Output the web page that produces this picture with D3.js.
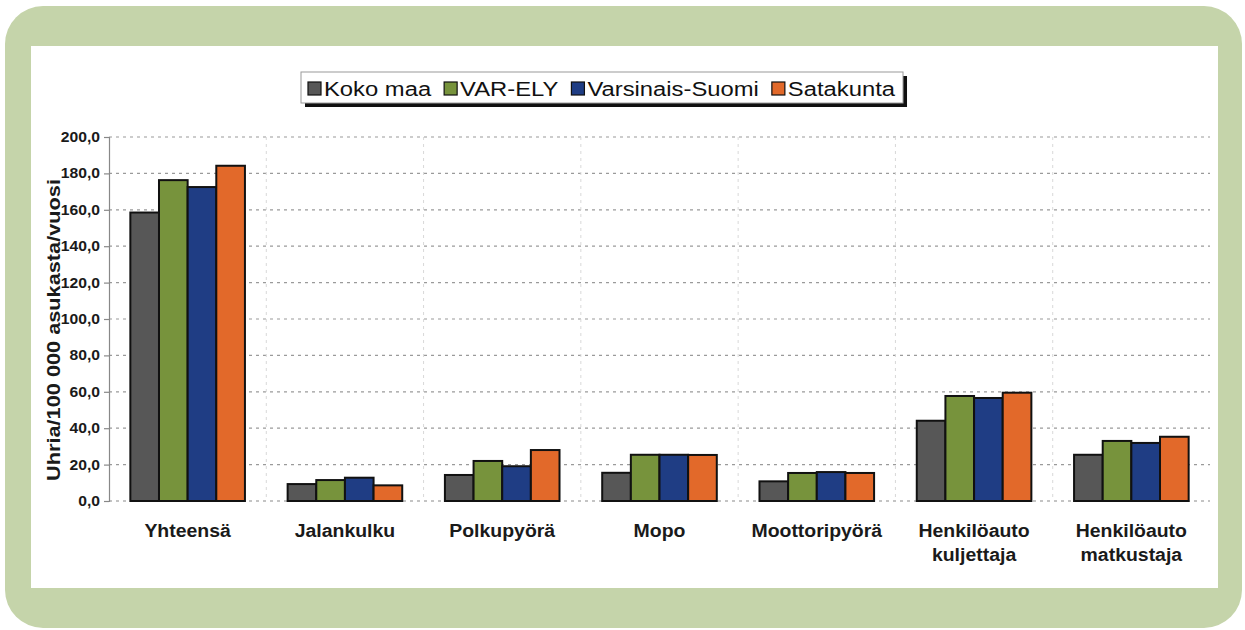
<!DOCTYPE html>
<html>
<head>
<meta charset="utf-8">
<script src="https://cdn.jsdelivr.net/npm/d3@7"></script>
<style>
  html, body { margin: 0; padding: 0; background: #ffffff; }
  svg { display: block; font-family: "Liberation Sans", Arial, sans-serif; }
</style>
</head>
<body>
<svg id="chart" width="1245" height="630"></svg>
<script>
// Casualties per 100 000 inhabitants per year, by road user group
const categories = [
  ["Yhteensä"],
  ["Jalankulku"],
  ["Polkupyörä"],
  ["Mopo"],
  ["Moottoripyörä"],
  ["Henkilöauto", "kuljettaja"],
  ["Henkilöauto", "matkustaja"]
];
const seriesNames = ["Koko maa", "VAR-ELY", "Varsinais-Suomi", "Satakunta"];
const seriesColors = ["#575757", "#77933c", "#1f3d84", "#e2692a"];
const kokoMaa        = [158.5, 9.3, 14.3, 15.5, 10.8, 44.1, 25.4];
const varEly         = [176.3, 11.5, 22.0, 25.4, 15.4, 57.7, 33.0];
const varsinaisSuomi = [172.5, 12.8, 19.1, 25.4, 15.9, 56.6, 31.9];
const satakunta      = [184.2, 8.6, 28.0, 25.3, 15.4, 59.5, 35.3];
const yTicks = [0, 20, 40, 60, 80, 100, 120, 140, 160, 180, 200];
const yTitle = "Uhria/100 000 asukasta/vuosi";

const seriesValues = [kokoMaa, varEly, varsinaisSuomi, satakunta];
const fmt = v => v.toFixed(1).replace(".", ",");

const svg = d3.select("#chart");

// Frame: rounded green panel with a white card inside
svg.append("rect").attr("x", 5).attr("y", 6).attr("width", 1237).attr("height", 622)
  .attr("rx", 38).attr("ry", 38).attr("fill", "#c5d4aa");
svg.append("rect").attr("x", 31).attr("y", 46).attr("width", 1187).attr("height", 542)
  .attr("fill", "#ffffff");

// Scales
const plot = { left: 109, right: 1210, top: 137, bottom: 501 };
const x0 = d3.scaleBand().domain(d3.range(categories.length)).range([plot.left, plot.right]);
const x1 = d3.scaleBand().domain(d3.range(seriesNames.length)).range([0, x0.bandwidth()])
  .paddingInner(0).paddingOuter(0.745);
const y = d3.scaleLinear().domain([0, 200]).range([plot.bottom, plot.top]);

// Horizontal gridlines
svg.append("g").selectAll("line").data(yTicks).join("line")
  .attr("x1", plot.left).attr("x2", plot.right)
  .attr("y1", d => y(d)).attr("y2", d => y(d))
  .attr("stroke", d => d === 0 ? "#8a8a8a" : "#9a9a9a")
  .attr("stroke-width", 1.2)
  .attr("stroke-dasharray", "3,4");

// Vertical separators between categories
svg.append("g").selectAll("line").data(d3.range(1, categories.length)).join("line")
  .attr("x1", d => x0(d)).attr("x2", d => x0(d))
  .attr("y1", plot.top).attr("y2", plot.bottom)
  .attr("stroke", "#d8d8d8").attr("stroke-width", 1)
  .attr("stroke-dasharray", "3,4");

// Y axis
const yAxis = d3.axisLeft(y).tickValues(yTicks).tickSize(5).tickPadding(4).tickFormat(fmt);
const gy = svg.append("g").attr("transform", `translate(${plot.left},0)`).call(yAxis);
gy.select(".domain").attr("stroke", "#888").attr("stroke-width", 1.2);
gy.selectAll(".tick line").attr("stroke", "#888").attr("stroke-width", 1.2);
gy.selectAll(".tick text")
  .attr("fill", "#1a1a1a").attr("font-size", "14px").attr("font-weight", "bold")
  .attr("font-family", "'Liberation Sans', Arial, sans-serif")
  .each(function () {
    const w = this.getComputedTextLength();
    d3.select(this).attr("textLength", w * 1.12).attr("lengthAdjust", "spacingAndGlyphs");
  });

// Y axis title
svg.append("text")
  .attr("transform", `translate(60,330) rotate(-90)`)
  .attr("text-anchor", "middle")
  .attr("font-size", "18px").attr("font-weight", "bold").attr("fill", "#1a1a1a")
  .attr("textLength", 302).attr("lengthAdjust", "spacingAndGlyphs")
  .text(yTitle);

// Bars
const groups = svg.append("g").selectAll("g").data(categories).join("g")
  .attr("transform", (d, i) => `translate(${x0(i)},0)`);
groups.selectAll("rect")
  .data((d, i) => seriesValues.map((vals, s) => ({ s, v: vals[i] })))
  .join("rect")
  .attr("x", d => x1(d.s))
  .attr("width", x1.bandwidth())
  .attr("y", d => y(d.v))
  .attr("height", d => y(0) - y(d.v))
  .attr("fill", d => seriesColors[d.s])
  .attr("stroke", "#111").attr("stroke-width", 2);

// Category labels
const xl = svg.append("g").selectAll("text").data(categories).join("text")
  .attr("x", (d, i) => x0(i) + x0.bandwidth() / 2)
  .attr("y", 537)
  .attr("text-anchor", "middle")
  .attr("font-size", "18px").attr("font-weight", "bold").attr("fill", "#1a1a1a");
xl.selectAll("tspan").data(d => d).join("tspan")
  .attr("x", function () { return this.parentNode.getAttribute("x"); })
  .attr("dy", (d, i) => i === 0 ? 0 : 23.5)
  .text(d => d)
  .each(function () {
    const w = this.getComputedTextLength();
    d3.select(this).attr("textLength", w * 1.08).attr("lengthAdjust", "spacingAndGlyphs");
  });

// Legend with drop shadow
const lg = svg.append("g");
const legendX = 301, legendY = 72, legendH = 31;
const shadow = lg.append("rect").attr("fill", "#111");
const box = lg.append("rect").attr("fill", "#ffffff").attr("stroke", "#9a9a9a").attr("stroke-width", 1);
let cx = legendX + 7;
seriesNames.forEach((name, i) => {
  lg.append("rect").attr("x", cx).attr("y", 82).attr("width", 13).attr("height", 13)
    .attr("fill", seriesColors[i]).attr("stroke", "#111").attr("stroke-width", 1.2);
  const t = lg.append("text").attr("x", cx + 16).attr("y", 95.5)
    .attr("font-size", "19.5px").attr("fill", "#111").text(name);
  const w = t.node().getComputedTextLength() * 1.22;
  t.attr("textLength", w).attr("lengthAdjust", "spacingAndGlyphs");
  cx += 16 + w + 13;
});
const legendW = cx - 13 + 8 - legendX;
box.attr("x", legendX).attr("y", legendY).attr("width", legendW).attr("height", legendH);
shadow.attr("x", legendX + 4).attr("y", legendY + 4).attr("width", legendW).attr("height", legendH);
</script>
</body>
</html>
